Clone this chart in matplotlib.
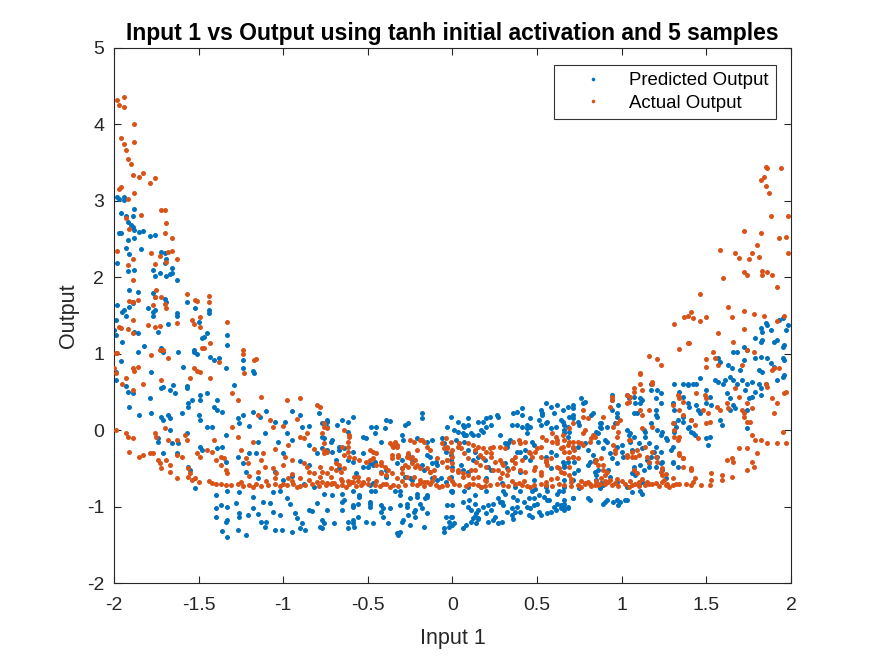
import matplotlib
matplotlib.use("Agg")
import matplotlib.pyplot as plt
from matplotlib.lines import Line2D

plt.rcParams['font.family'] = ['Liberation Sans', 'DejaVu Sans']

title = "Input 1 vs Output using tanh initial activation and 5 samples"
xlabel = "Input 1"
ylabel = "Output"
series_names = ["Predicted Output", "Actual Output"]
x_ticks = [-2, -1.5, -1, -0.5, 0, 0.5, 1, 1.5, 2]
x_tick_labels = ["-2", "-1.5", "-1", "-0.5", "0", "0.5", "1", "1.5", "2"]
y_ticks = [-2, -1, 0, 1, 2, 3, 4, 5]
y_tick_labels = ["-2", "-1", "0", "1", "2", "3", "4", "5"]

# Predicted output points (Input 1, Output)
predicted_points = [
    (-1.98,3.05),(-1.97,3.02),(-1.94,3.05),(-1.94,3.01),(-1.88,2.89),(-1.96,2.84),(-1.89,2.80),(-1.93,2.80),
    (-1.92,2.72),(-1.90,2.68),(-1.89,2.66),(-1.88,2.62),(-1.97,2.58),(-1.96,2.58),(-1.85,2.59),(-1.83,2.60),
    (-1.79,2.54),(-1.76,2.55),(-1.92,2.49),(-1.88,2.51),(-1.84,2.37),(-1.93,2.38),(-1.91,2.30),(-1.72,2.33),
    (-1.70,2.32),(-1.98,2.19),(-1.70,2.19),(-1.69,2.24),(-1.77,2.09),(-1.66,2.12),(-1.92,2.08),(-1.88,2.10),
    (-1.73,2.05),(-1.76,2.02),(-1.69,2.02),(-1.67,2.04),(-1.66,2.05),(-1.63,1.97),(-1.91,1.83),(-1.86,1.81),
    (-1.77,1.80),(-1.76,1.74),(-1.70,1.71),(-1.69,1.68),(-1.57,1.68),(-1.52,1.60),(-1.44,1.57),(-1.44,1.53),
    (-1.98,1.64),(-1.95,1.54),(-1.94,1.57),(-1.89,1.66),(-1.89,1.68),(-1.80,1.60),(-1.77,1.54),(-1.76,1.57),
    (-1.63,1.53),(-1.63,1.49),(-1.91,1.61),(-1.77,1.49),
    (-1.93,1.50),(-1.99,1.44),(-1.50,1.42),(-1.68,1.39),(-1.74,1.28),(-1.88,1.28),(-1.86,1.27),(-2.00,1.31),
    (-1.99,1.24),(-1.95,1.15),(-1.96,0.90),(-1.99,0.65),(-1.99,0.76),(-1.82,1.10),(-1.86,1.02),(-1.72,1.07),
    (-1.71,1.02),(-1.78,0.76),(-1.62,1.02),(-1.59,0.82),(-1.53,1.05),(-1.53,1.02),(-1.51,1.00),(-1.48,1.20),
    (-1.47,1.22),(-1.45,1.27),(-1.43,0.96),(-1.41,0.92),(-1.38,0.95),(-1.34,0.81),(-1.33,1.24),(-1.33,1.11),
    (-1.24,0.92),(-1.24,0.81),(-1.18,0.77),(-1.17,0.75),(-1.29,0.59),(-1.65,0.59),(-1.67,0.52),(-1.57,0.58),
    (-1.57,0.55),(-1.72,0.55),(-1.71,0.56),(-1.64,0.48),(-1.93,0.58),(-1.92,0.50),(-1.89,0.48),(-1.79,0.42),
    (-1.49,0.46),(-1.49,0.39),(-1.39,0.40),(-1.45,0.48),
    (-1.91,0.30),(-1.85,0.20),(-1.78,0.22),(-1.72,0.17),(-1.71,0.13),(-1.68,0.20),(-1.67,0.16),(-1.60,0.22),
    (-1.56,0.35),(-1.56,0.30),(-1.54,0.39),(-1.50,0.20),(-1.49,0.13),(-1.45,0.04),(-1.41,0.30),(-1.39,0.26),
    (-1.36,0.24),(-1.27,0.16),(-1.26,0.09),(-1.24,0.20),(-1.18,0.24),(-1.14,0.17),(-1.11,-0.04),(-1.03,-0.16),
    (-0.99,0.10),(-0.98,-0.04),(-0.95,-0.13),(-0.90,0.20),(-0.89,0.04),(-0.85,-0.20),(-0.79,0.22),(-0.74,0.04),
    (-1.74,-0.10),(-1.74,-0.16),(-1.66,-0.17),(-1.62,-0.17),(-1.67,0.00),(-1.57,-0.04),(-1.63,-0.30),(-1.71,-0.30),
    (-1.56,-0.48),(-1.55,-0.52),(-1.49,-0.22),(-1.48,-0.26),(-1.39,-0.24),(-1.36,-0.22),(-1.34,-0.42),(-1.27,-0.35),
    (-1.24,-0.43),(-1.20,-0.30),(-1.16,-0.30),(-1.34,-0.07),(-1.42,0.04),
    (-1.52,-0.76),(-1.40,-0.85),(-1.33,-0.79),(-1.40,-1.02),(-1.37,-0.98),(-1.33,-1.00),(-1.40,-1.13),(-1.34,-1.20),
    (-1.33,-1.17),(-1.36,-1.32),(-1.33,-1.40),(-1.27,-1.31),(-1.26,-0.81),(-1.26,-1.14),(-1.26,-1.09),(-1.22,-1.37),
    (-1.21,-1.11),(-1.18,-1.02),(-1.18,-0.88),(-1.12,-0.94),(-1.13,-1.20),(-1.10,-1.20),(-1.11,-1.27),(-1.06,-1.07),
    (-1.06,-0.81),(-1.02,-1.11),(-1.01,-1.31),(-0.98,-0.89),(-0.96,-0.96),(-0.93,-1.09),(-0.90,-1.28),(-0.89,-1.22),
    (-0.95,-1.33),(-0.85,-1.05),(-0.83,-1.06),(-0.78,-1.27),(-0.82,-0.75),(-1.02,-0.79),
    (-1.05,-0.55),(-0.95,-0.60),(-0.85,-0.45),(-1.15,-0.62),(-0.80,-0.30),
    (-1.20,0.05),(-1.10,0.25),(-1.05,0.10),(-0.95,0.25),(-0.85,0.05),(-1.15,-0.15),(-1.00,-0.30),(-0.90,-0.40),
    (-1.22,-0.55),(-1.00,-0.65),(-0.88,-0.70),(-1.28,-0.95),(-1.15,-1.10),(-1.08,-0.95),(-0.92,-1.15),(-0.80,-0.95),
    (-0.87,-1.30),(-1.05,-1.30),
    (-0.74,0.13),(-0.77,0.09),(-0.68,0.07),(-0.65,0.13),(-0.62,0.10),(-0.59,0.17),(-0.62,-0.03),(-0.76,-0.10),
    (-0.72,-0.16),(-0.74,-0.26),(-0.67,-0.22),(-0.53,-0.09),(-0.51,-0.10),(-0.48,0.04),(-0.45,0.04),(-0.46,-0.04),
    (-0.42,-0.16),(-0.39,0.13),(-0.37,0.12),(-0.40,0.03),(-0.30,-0.07),(-0.29,-0.13),(-0.28,0.07),(-0.26,0.09),
    (-0.21,-0.10),(-0.18,0.22),(-0.18,0.16),(-0.15,-0.16),(-0.12,-0.13),(-0.01,0.17),(0.03,0.10),(0.06,0.07),
    (0.09,0.16),(0.01,0.00),(0.07,-0.07),(0.11,-0.04),(0.15,0.10),(0.18,0.10),(0.20,0.16),(0.22,0.17),
    (0.20,0.04),(0.23,0.07),(0.27,0.17),(0.28,-0.07),(0.36,0.22),(0.38,0.24),(0.41,0.20),(0.41,0.29),
    (0.35,0.07),(0.38,0.07),(0.44,0.03),(0.46,0.04),(0.52,0.26),(0.53,0.22),(0.55,0.35),(0.58,0.30),
    (0.62,0.33),(0.60,0.22),(0.64,0.13),(0.58,0.03),(0.61,0.04),(0.51,0.13),(0.66,-0.04),(0.31,-0.17),
    (0.32,-0.22),(0.40,-0.29),(0.43,-0.26),(0.09,-0.26),(0.13,-0.29),(-0.04,-0.29),(-0.01,-0.33),(-0.59,-0.29),
    (-0.49,-0.43),(-0.46,-0.42),(-0.30,-0.50),(-0.12,-0.43),(-0.09,-0.46),
    (-0.67,-0.50),(-0.57,-0.56),(-0.53,-0.48),(-0.39,-0.61),(-0.28,-0.61),(-0.24,-0.65),(-0.13,-0.35),(-0.09,-0.65),
    (-0.01,-0.61),(0.05,-0.46),(0.12,-0.39),(0.20,-0.63),(0.29,-0.69),(0.35,-0.39),(0.40,-0.55),(0.48,-0.65),
    (0.58,-0.50),(0.66,-0.65),
    (-0.76,-0.83),(-0.71,-0.85),(-0.74,-1.05),(-0.77,-1.18),(-0.76,-1.22),(-0.70,-1.22),(-0.77,-1.28),(-0.65,-0.83),
    (-0.64,-0.92),(-0.59,-0.98),(-0.56,-0.96),(-0.59,-1.22),(-0.58,-1.27),(-0.62,-1.28),(-0.56,-1.14),(-0.49,-0.96),
    (-0.49,-1.00),(-0.51,-1.20),(-0.47,-1.22),(-0.42,-1.07),(-0.41,-1.14),(-0.37,-1.02),(-0.32,-1.35),(-0.31,-1.33),
    (-0.38,-1.22),(-0.27,-0.96),(-0.25,-0.89),(-0.30,-1.20),(-0.29,-1.18),(-0.25,-1.24),(-0.23,-1.07),(-0.22,-1.14),
    (-0.19,-0.96),(-0.16,-0.89),(-0.15,-0.85),(-0.18,-1.02),(-0.17,-1.27),(-0.04,-1.14),(0.00,-1.14),(-0.05,-1.28),
    (-0.02,-1.27),(0.00,-1.24),(-0.05,-1.33),(0.06,-1.28),(0.00,-0.98),(0.09,-1.00),(0.11,-1.05),(0.13,-0.96),
    (0.12,-1.15),(0.15,-1.15),(0.11,-1.20),(0.14,-1.22),(0.18,-1.00),(0.20,-1.09),(0.21,-1.20),(0.23,-1.05),
    (0.25,-1.14),(0.29,-0.94),(0.30,-0.98),(0.32,-1.07),(0.29,-1.20),(0.36,-0.88),(0.38,-0.92),(0.37,-1.07),
    (0.40,-1.07),(0.44,-1.00),(0.46,-1.02),(0.48,-0.89),(0.51,-0.85),(0.51,-1.07),(0.52,-1.11),(0.56,-1.09),
    (0.58,-1.07),(0.62,-0.96),(0.64,-1.02),(0.66,-1.05),(0.56,-0.92),(0.62,-0.83),(-0.21,-0.83),(-0.34,-0.79),
    (-0.31,-0.85),(-0.55,-0.85),(0.13,-0.85),(0.00,-0.79),
    (-0.74,0.10),(-0.77,-0.09),(-0.71,-0.13),(-0.06,-0.10),(-0.05,-0.17),(-0.03,0.04),
    (-0.77,-0.23),(-0.71,-0.29),(-0.67,-0.26),(-0.64,-0.24),(-0.69,-0.39),(-0.62,-0.39),(-0.59,-0.42),(-0.53,-0.30),
    (-0.50,-0.48),(-0.47,-0.46),(-0.42,-0.55),(-0.39,-0.52),(-0.33,-0.43),(-0.30,-0.39),(-0.26,-0.33),(-0.24,-0.42),
    (-0.18,-0.46),(-0.17,-0.52),(-0.15,-0.33),(-0.10,-0.42),(-0.12,-0.63),(-0.25,-0.63),(-0.48,-0.79),(-0.46,-0.79),
    (-0.59,-0.79),(-0.31,-0.79),(-0.21,-0.88),(-0.15,-0.88),(-0.07,-0.63),(-0.04,-0.68),
    (-0.65,-0.94),(-0.65,-1.05),(-0.59,-1.00),(-0.59,-1.18),(-0.55,-0.88),(-0.62,-1.20),(-0.49,-0.94),(-0.42,-0.98),
    (-0.41,-1.02),(-0.33,-1.35),(-0.32,-1.37),(-0.31,-0.98),(-0.27,-1.00),(-0.26,-1.11),(-0.22,-1.05),(-0.15,-1.09),
    (-0.47,-0.69),(-0.49,-0.72),
    (0.07,0.04),(0.09,0.07),(0.03,-0.03),(0.06,-0.04),(0.08,-0.07),(0.12,-0.07),(0.15,-0.07),(0.02,-0.13),
    (0.07,-0.16),(0.17,0.00),(0.18,-0.03),(0.26,0.20),(0.41,0.04),(0.44,0.07),(0.44,-0.04),(0.46,0.16),
    (0.52,0.07),(0.55,0.09),(0.56,0.10),(0.68,0.30),(0.71,0.20),(0.53,0.20),(0.65,0.10),(0.66,0.07),
    (0.38,-0.29),(0.34,-0.13),(0.33,-0.17),(0.47,-0.16),(0.48,-0.20),(0.55,-0.35),(0.58,-0.29),(0.61,-0.33),
    (0.65,-0.42),(0.66,-0.48),(0.43,-0.35),(0.46,-0.39),(0.31,-0.43),(0.32,-0.50),(0.19,-0.39),(0.21,-0.48),
    (0.15,-0.35),(0.23,-0.52),(-0.01,-0.39),(0.00,-0.48),(0.06,-0.52),(0.09,-0.55),
    (-0.01,-0.79),(0.00,-0.81),(0.07,-0.79),(0.09,-0.75),(0.17,-0.75),(0.20,-0.79),(0.30,-0.79),(0.31,-0.83),
    (0.37,-0.75),(0.40,-0.79),(0.47,-0.79),(0.49,-0.77),(0.55,-0.75),(0.56,-0.79),(0.63,-0.79),(0.66,-0.75),
    (-0.03,-0.98),(0.06,-0.94),(0.10,-0.92),(0.15,-1.05),(0.14,-1.09),(0.21,-0.98),(0.24,-0.96),(0.27,-0.89),
    (0.28,-0.94),(0.35,-1.02),(0.38,-1.00),(0.42,-0.94),(0.45,-0.89),(0.48,-0.98),(0.50,-0.96),(0.54,-0.88),
    (0.57,-0.92),(0.60,-1.00),(0.61,-1.05),(0.64,-0.98),(0.66,-0.96),(0.68,-1.02),(-0.01,-1.14),(-0.02,-1.20),
    (0.01,-1.22),(0.08,-1.24),(0.13,-1.12),(0.15,-1.16),(0.24,-1.18),(0.27,-1.22),(0.35,-1.11),(0.36,-1.16),
    (0.45,-1.11),(0.47,-1.14),
    (1.98,1.37),(1.97,1.31),(1.85,1.40),(1.86,1.37),(1.88,1.31),(1.82,1.33),(1.83,1.28),(1.93,1.44),
    (1.95,1.47),(1.79,1.20),(1.82,1.15),(1.83,1.18),(1.90,1.15),(1.92,1.18),(1.95,1.09),(1.96,1.11),
    (1.72,1.09),(1.74,1.05),(1.66,1.02),(1.68,1.02),(1.72,0.92),(1.79,0.94),(1.82,0.96),(1.86,0.94),
    (1.88,0.88),(1.95,0.94),(1.96,0.92),(1.57,0.94),(1.58,0.89),(1.63,0.85),(1.65,0.81),(1.70,0.79),
    (1.81,0.79),(1.83,0.76),(1.90,0.82),(1.92,0.65),(1.95,0.69),(1.96,0.72),(1.55,0.65),(1.57,0.63),
    (1.60,0.61),(1.61,0.65),(1.64,0.69),(1.66,0.65),(1.68,0.61),(1.71,0.65),(1.74,0.61),(1.77,0.63),
    (1.81,0.61),(1.82,0.55),(1.85,0.61),(1.50,0.52),(1.52,0.43),(1.73,0.52),(1.75,0.42),(1.77,0.43),
    (1.62,0.48),(1.64,0.42),(1.66,0.33),(1.67,0.29),(1.74,0.26),(1.79,0.50),(1.82,0.46),(1.42,0.61),
    (1.44,0.61),(1.46,0.68),(1.39,0.59),(1.31,0.61),(1.50,0.35),(1.53,0.33),(1.44,0.33),(1.45,0.26),
    (1.46,0.22),(1.39,0.35),(1.40,0.30),(1.30,0.35),(1.31,0.26),(1.32,0.04),(1.31,-0.03),(1.36,0.17),
    (1.36,0.10),(1.39,0.03),(1.41,-0.03),(1.42,-0.04),(1.43,-0.07),(1.50,-0.10),(1.52,-0.09),(1.51,-0.20),
    (1.58,0.13),(1.59,0.07),(1.64,0.26),(1.74,0.03),(1.27,-0.13),(1.29,-0.26),(1.30,-0.42),(1.30,-0.43),
    (1.21,0.00),(1.23,-0.07),(1.24,-0.03),(1.19,-0.29),(1.21,-0.35),(1.24,-0.42),(1.17,0.61),(1.17,0.52),
    (1.11,0.42),(1.11,0.35),(1.07,0.22),(1.21,0.17),(1.23,0.35),(1.03,0.46),(1.04,0.42),(0.98,0.33),
    (0.97,0.22),(0.94,0.26),(0.88,0.09),(0.87,0.04),(0.91,0.04),(0.83,0.22),(0.82,0.20),(0.76,0.42),
    (0.78,0.37),(0.71,0.33),(0.71,0.29),(0.65,0.26),(0.68,0.04),(0.66,0.00),(0.71,0.16),(0.69,0.17),
    (0.75,0.07),(0.86,-0.16),(0.90,-0.13),(0.89,-0.24),(0.78,-0.17),(0.83,-0.33),(0.81,-0.42),(0.71,-0.24),
    (0.72,-0.42),(0.66,-0.46),(1.03,0.00),(1.05,-0.04),(1.07,-0.09),(1.05,-0.16),(1.06,-0.26),(1.00,-0.29),
    (1.01,-0.35),(1.10,-0.17),(1.12,-0.24),(1.14,-0.09),(1.15,-0.39),(1.16,-0.43),(1.11,-0.46),(1.13,-0.52),
    (1.07,-0.48),(1.06,-0.56),(0.94,-0.37),(0.97,-0.43),(0.91,-0.92),(0.89,-0.96),(0.95,-0.94),(0.99,-0.94),
    (1.03,-0.92),(1.11,-0.79),(1.12,-0.83),(1.06,-0.81),(0.87,-0.76),(0.89,-0.72),(0.71,-0.89),(0.65,-1.00),
    (0.81,-0.92),(0.65,-0.79),(0.71,-0.65),(0.84,-0.55),(0.85,-0.59),
    (0.77,0.35),(0.74,0.10),(0.69,-0.03),(0.68,-0.09),(0.87,0.09),(0.88,0.03),(0.85,-0.03),(0.86,-0.04),
    (0.94,0.46),(0.94,0.39),(0.97,0.17),(0.96,0.09),(0.91,-0.16),(0.80,-0.26),(0.74,-0.22),(0.71,-0.35),
    (0.68,-0.42),(0.84,-0.39),(0.80,-0.46),(0.74,-0.52),(0.72,-0.56),(0.86,-0.52),(0.93,-0.30),(0.97,-0.22),
    (1.00,-0.20),(1.04,-0.07),(1.07,0.43),(1.08,0.35),(1.09,0.22),(1.12,0.39),(1.13,0.00),(1.14,-0.03),
    (1.17,0.09),(1.21,0.52),(1.20,0.42),(1.23,0.48),(1.20,0.26),(1.20,0.20),(1.26,-0.10),(1.20,-0.22),
    (1.23,-0.29),(1.20,-0.48),(1.23,-0.43),(1.30,-0.22),(1.33,-0.48),(1.36,0.61),(1.39,0.61),(1.34,0.50),
    (1.36,0.43),(1.33,0.13),(1.31,0.09),(1.24,-0.52),(1.26,-0.63),(1.16,-0.48),(1.07,-0.52),(1.08,-0.59),
    (1.03,-0.75),(1.10,-0.72),(1.12,-0.68),(0.97,-0.68),(0.90,-0.94),(0.97,-0.92),(0.98,-0.98),(1.02,-0.92),
    (0.80,-0.89),(0.71,-0.89),(0.66,-0.92),(0.68,-1.00),(0.85,-0.65),(0.88,-0.69),(0.75,-0.76),(0.92,-0.52),
    (0.93,-0.61),(1.16,-0.17),(1.17,-0.35),(1.41,0.13),(1.40,0.04),
]

# Actual output points (Input 1, Output)
actual_points = [
    (-1.98,4.32),(-1.94,4.36),(-1.94,4.23),(-1.97,4.25),(-1.88,4.00),(-1.96,3.82),(-1.88,3.77),(-1.94,3.74),
    (-1.93,3.66),(-1.92,3.55),(-1.90,3.48),(-1.89,3.34),(-1.85,3.31),(-1.83,3.36),(-1.76,3.30),(-1.79,3.24),
    (-1.97,3.15),(-1.96,3.18),(-1.88,3.10),(-1.92,3.02),(-1.72,2.88),(-1.70,2.88),(-1.84,2.81),(-1.69,2.71),
    (-1.93,2.77),(-1.91,2.63),(-1.70,2.58),(-1.66,2.51),(-1.98,2.34),(-1.78,2.32),(-1.73,2.28),(-1.68,2.33),
    (-1.66,2.34),(-1.63,2.24),(-1.89,2.24),(-1.69,2.20),(-1.92,2.16),(-1.76,2.17),(-1.89,1.97),(-1.75,1.84),
    (-1.76,1.74),(-1.72,1.74),(-1.57,1.78),(-1.52,1.70),(-1.44,1.75),(-1.44,1.68),(-1.91,1.69),(-1.86,1.70),
    (-1.70,1.65),(-1.69,1.60),(-1.77,1.64),(-1.49,1.48),
    (-1.89,1.68),(-1.51,1.69),(-1.97,1.35),(-1.96,1.33),(-1.89,1.44),(-1.92,1.32),(-1.80,1.37),(-1.76,1.35),
    (-1.73,1.36),(-1.63,1.40),(-1.54,1.44),(-1.53,1.39),(-1.49,1.35),(-1.33,1.41),(-1.89,1.27),
    (-1.99,1.01),(-1.98,1.01),(-2.00,0.81),(-1.99,0.75),(-1.95,0.61),(-1.89,0.81),(-1.88,0.78),(-1.86,0.82),
    (-1.78,0.98),(-1.72,0.65),(-1.73,1.05),(-1.71,1.05),(-1.68,0.94),(-1.55,0.68),(-1.53,0.81),(-1.51,0.78),
    (-1.49,0.76),(-1.48,1.08),(-1.47,1.07),(-1.43,1.14),(-1.38,0.89),(-1.43,0.68),(-1.24,1.05),(-1.24,1.00),
    (-1.17,0.92),(-1.16,0.93),(-1.23,0.75),(-1.30,0.48),(-1.27,0.39),(-1.13,0.43),(-1.83,0.61),(-1.93,0.68),
    (-1.89,0.52),
    (-1.99,0.00),(-1.93,-0.04),(-1.92,-0.09),(-1.89,-0.10),(-1.91,-0.29),(-1.85,-0.35),(-1.83,-0.33),(-1.79,-0.30),
    (-1.77,-0.30),(-1.74,-0.39),(-1.73,-0.43),(-1.72,-0.50),(-1.69,-0.39),(-1.67,-0.46),(-1.67,-0.55),(-1.63,-0.63),
    (-1.63,-0.33),(-1.60,-0.35),(-1.56,-0.50),(-1.55,-0.56),(-1.52,-0.63),(-1.50,-0.68),(-1.76,-0.04),(-1.75,-0.09),
    (-1.70,0.03),(-1.68,-0.13),(-1.63,-0.13),(-1.58,-0.07),(-1.57,-0.13),(-1.51,-0.30),(-1.49,-0.35),(-1.45,-0.26),
    (-1.42,-0.29),(-1.41,-0.13),(-1.40,-0.39),(-1.37,-0.35),(-1.35,-0.37),(-1.37,-0.46),(-1.34,-0.52),(-1.33,-0.56),
    (-1.56,-0.61),(-1.54,-0.65),(-1.30,0.04),(-1.27,-0.09),(-1.25,-0.26),(-1.22,-0.37),(-1.21,-0.43),(-1.13,-0.39),
    (-1.11,-0.48),(-1.06,-0.50),(-1.04,-0.56),(-0.98,0.39),(-0.90,0.42),(-0.80,0.33),(-0.99,-0.35),(-0.95,-0.39),
    (-0.88,-0.43),(-0.86,-0.48),(-0.82,-0.56),(-0.78,-0.61),(-1.08,0.13),(-1.06,0.04),(-0.90,-0.09),(-0.86,-0.04),
    (-1.20,-0.60),(-1.15,-0.55),(-1.05,-0.62),(-0.95,-0.58),(-0.90,-0.62),(-0.85,-0.55),(-1.00,-0.45),(-1.12,-0.30),
    (-0.97,-0.20),(-0.82,-0.25),(-0.88,-0.10),(-1.18,-0.15),(-1.05,-0.25),(-0.92,0.15),(-1.15,0.20),(-1.00,0.05),
    (-1.44,-0.66),(-1.42,-0.69),(-1.40,-0.70),(-1.37,-0.71),(-1.34,-0.72),(-1.31,-0.72),(-1.27,-0.71),(-1.24,-0.73),
    (-1.20,-0.72),(-1.16,-0.71),(-1.13,-0.73),(-1.09,-0.72),(-1.05,-0.71),(-1.02,-0.73),(-0.98,-0.72),(-0.94,-0.70),
    (-0.90,-0.73),(-0.87,-0.72),(-0.83,-0.71),(-0.79,-0.73),(-0.75,-0.72),(-0.72,-0.70),(-0.68,-0.73),(-0.65,-0.72),
    (-0.61,-0.71),(-0.57,-0.73),(-0.54,-0.72),(-0.50,-0.70),(-0.46,-0.72),(-0.43,-0.73),(-0.39,-0.71),(-0.35,-0.72),
    (-0.32,-0.73),(-0.28,-0.72),(-0.24,-0.70),(-0.21,-0.72),(-0.17,-0.73),(-0.13,-0.71),(-0.10,-0.72),(-0.06,-0.73),
    (-0.03,-0.72),(0.01,-0.70),(0.04,-0.72),(0.08,-0.73),(0.12,-0.71),(0.15,-0.72),(0.19,-0.73),(0.22,-0.72),
    (0.26,-0.70),(0.30,-0.72),(0.33,-0.73),(0.37,-0.71),(0.41,-0.72),(0.44,-0.73),(0.48,-0.72),(0.52,-0.70),
    (0.55,-0.72),(0.59,-0.73),(0.63,-0.71),(0.66,-0.72),(0.70,-0.73),(0.74,-0.72),(0.78,-0.71),(0.82,-0.73),
    (0.86,-0.72),(0.90,-0.70),(0.94,-0.72),(0.98,-0.73),(1.02,-0.71),(1.06,-0.72),(1.10,-0.73),(1.14,-0.72),
    (1.18,-0.71),(1.22,-0.73),(1.26,-0.72),(1.30,-0.72),(1.34,-0.71),(1.38,-0.70),(1.42,-0.68),
    (-1.25,-0.68),(-0.95,-0.67),(-0.60,-0.68),(-0.30,-0.67),(0.00,-0.66),(0.35,-0.67),(0.70,-0.68),(1.00,-0.67),
    (-1.10,-0.66),(-0.80,-0.68),(-0.45,-0.66),(-0.15,-0.68),(0.20,-0.66),(0.55,-0.68),(0.85,-0.66),(1.15,-0.68),
    (-1.18,-0.74),(-0.92,-0.75),(-0.63,-0.74),(-0.37,-0.75),(-0.08,-0.74),(0.17,-0.75),(0.46,-0.74),(0.76,-0.75),
    (1.04,-0.74),(1.28,-0.75),(-1.00,-0.70),(-0.70,-0.69),(-0.41,-0.70),(-0.19,-0.69),(0.10,-0.70),(0.39,-0.69),
    (-0.97,-0.63),(-0.66,-0.64),(-0.33,-0.63),(-0.02,-0.62),(0.28,-0.63),(0.58,-0.64),(-0.85,-0.65),(-0.50,-0.64),
    (-0.12,-0.66),(0.42,-0.66),(0.62,-0.62),(-0.23,-0.61),
    (0.70,-0.64),(0.76,-0.66),(0.80,-0.68),(0.88,-0.63),(0.92,-0.68),(0.97,-0.64),(1.05,-0.66),(1.08,-0.70),
    (1.12,-0.64),(1.20,-0.69),(1.25,-0.65),(1.32,-0.70),
    (-0.76,0.04),(-0.77,-0.04),(-0.76,-0.26),(-0.74,-0.29),(-0.69,-0.43),(-0.67,-0.46),(-0.64,-0.50),(-0.65,-0.22),
    (-0.62,-0.29),(-0.64,0.00),(-0.62,-0.16),(-0.74,-0.56),(-0.72,-0.61),(-0.58,-0.61),(-0.56,-0.61),(-0.53,-0.68),
    (-0.49,-0.26),(-0.47,-0.29),(-0.45,-0.30),(-0.51,-0.42),(-0.42,-0.42),(-0.40,-0.48),(-0.38,-0.52),(-0.36,-0.20),
    (-0.33,-0.22),(-0.34,-0.16),(-0.36,-0.33),(-0.32,-0.33),(-0.27,-0.35),(-0.25,-0.37),(-0.24,-0.43),(-0.22,-0.48),
    (-0.19,-0.50),(-0.21,-0.26),(-0.18,-0.13),(-0.15,-0.22),(-0.13,-0.26),(-0.30,-0.56),(-0.27,-0.61),(-0.13,-0.55),
    (-0.11,-0.61),(-0.04,-0.10),(-0.01,-0.16),(-0.03,-0.24),(0.00,-0.26),(0.03,-0.22),(0.04,-0.17),(-0.03,-0.39),
    (0.00,-0.43),(0.03,-0.52),(0.06,-0.56),(0.11,-0.52),(0.13,-0.52),(0.09,-0.17),(0.16,-0.33),(0.18,-0.37),
    (0.15,-0.22),(0.22,-0.24),(0.24,-0.22),(0.20,-0.48),(0.24,-0.52),(0.28,-0.22),(0.31,-0.24),(0.29,-0.43),
    (0.33,-0.52),(0.36,-0.50),(0.40,-0.17),(0.43,-0.16),(0.37,-0.35),(0.41,-0.39),(0.46,-0.30),(0.49,-0.29),
    (0.48,-0.52),(0.52,-0.59),(0.52,-0.35),(0.55,-0.39),(0.58,-0.37),(0.59,-0.16),(0.62,-0.13),(0.64,-0.24),
    (0.66,-0.29),(0.62,-0.48),(0.64,-0.55),(0.68,-0.20),(-0.25,-0.13),(-0.23,-0.16),(-0.09,-0.37),(-0.06,-0.42),
    (-0.19,-0.65),(-0.17,-0.68),(-0.58,-0.37),(-0.55,-0.39),
    (-0.78,0.30),(-0.76,0.09),(-0.74,0.03),(-0.76,-0.17),(-0.76,-0.30),(-0.61,-0.09),(-0.61,-0.07),(-0.62,-0.22),
    (-0.64,-0.33),(-0.61,-0.35),(-0.72,-0.50),(-0.69,-0.52),(-0.66,-0.55),(-0.78,-0.48),(-0.77,-0.55),(-0.77,-0.68),
    (-0.74,-0.69),(-0.71,-0.69),(-0.65,-0.66),(-0.62,-0.66),(-0.59,-0.68),(-0.56,-0.66),(-0.53,-0.69),(-0.49,-0.39),
    (-0.47,-0.36),(-0.45,-0.46),(-0.42,-0.46),(-0.42,-0.56),(-0.39,-0.59),(-0.36,-0.56),(-0.37,-0.17),(-0.35,-0.22),
    (-0.33,-0.20),(-0.36,-0.37),(-0.32,-0.35),(-0.30,-0.50),(-0.28,-0.46),(-0.26,-0.48),(-0.26,-0.30),(-0.24,-0.35),
    (-0.22,-0.39),(-0.21,-0.46),(-0.19,-0.13),(-0.17,-0.16),(-0.15,-0.50),(-0.13,-0.55),(-0.11,-0.52),(-0.06,-0.17),
    (-0.05,-0.24),(-0.03,-0.39),(-0.03,-0.48),
    (-0.03,-0.22),(-0.01,-0.29),(0.00,-0.35),(0.04,-0.17),(0.05,-0.24),(0.07,-0.30),(0.09,-0.37),(0.12,-0.20),
    (0.13,-0.26),(0.14,-0.42),(0.16,-0.46),(0.18,-0.24),(0.20,-0.29),(0.23,-0.30),(0.23,-0.35),(0.25,-0.42),
    (0.28,-0.39),(0.30,-0.46),(0.27,-0.52),(0.29,-0.56),(0.32,-0.59),(0.36,-0.16),(0.39,-0.13),(0.35,-0.39),
    (0.37,-0.43),(0.40,-0.52),(0.43,-0.55),(0.45,-0.29),(0.47,-0.35),(0.50,-0.24),(0.52,-0.22),(0.49,-0.48),
    (0.52,-0.55),(0.55,-0.42),(0.56,-0.46),(0.59,-0.04),(0.61,-0.09),(0.62,-0.17),(0.65,-0.22),(0.63,-0.50),
    (0.66,-0.56),(0.69,-0.29),(0.71,-0.35),(0.69,-0.59),(0.00,-0.52),(0.03,-0.55),(0.06,-0.61),(0.09,-0.59),
    (0.12,-0.63),(0.15,-0.61),(0.19,-0.65),(0.53,-0.09),(0.55,-0.13),
    (1.85,3.44),(1.86,3.43),(1.94,3.43),(1.82,3.27),(1.84,3.31),(1.85,3.20),(1.87,3.10),(1.88,2.80),
    (1.98,2.80),(1.72,2.60),(1.82,2.58),(1.93,2.51),(1.97,2.53),(1.98,2.32),(1.58,2.36),(1.67,2.32),
    (1.69,2.25),(1.75,2.24),(1.77,2.32),(1.80,2.42),(1.81,2.26),(1.72,2.07),(1.74,2.03),(1.83,2.08),
    (1.83,2.03),(1.86,2.07),(1.89,2.03),(1.60,1.99),(1.92,1.87),(1.46,1.78),(1.31,1.39),(1.37,1.48),
    (1.39,1.49),(1.41,1.54),(1.42,1.47),(1.46,1.43),(1.50,1.48),(1.63,1.61),(1.65,1.48),(1.72,1.56),
    (1.72,1.32),(1.78,1.52),(1.84,1.49),(1.92,1.43),(1.96,1.50),(1.57,1.27),(1.39,1.14),(1.40,1.14),
    (1.34,1.06),(1.16,0.97),(1.21,0.93),(1.23,0.85),(1.11,0.73),(1.50,0.93),(1.50,0.82),(1.54,1.02),
    (1.55,0.94),(1.57,0.85),(1.66,1.15),(1.71,0.85),(1.74,1.05),(1.78,1.02),(1.89,0.79),(1.90,0.81),
    (1.93,0.81),(1.97,0.50),(1.96,0.48),(1.07,0.55),(1.05,0.43),(1.11,0.61),(1.12,0.52),(0.94,0.43),
    (0.94,0.39),(1.18,0.63),(1.30,0.33),(1.33,0.46),(1.34,0.42),(1.44,0.48),(1.49,0.46),(1.50,0.42),
    (1.56,0.30),(1.58,0.26),(1.62,0.35),(1.63,0.29),(1.67,0.55),(1.69,0.43),(1.71,0.26),(1.72,0.22),
    (1.74,0.35),(1.77,0.29),(1.85,0.61),(1.86,0.56),(1.89,0.42),(1.92,0.35),(1.90,0.22),(1.72,0.17),
    (1.74,0.10),(1.76,0.10),(1.95,-0.03),(1.92,-0.17),(1.97,-0.17),(1.86,-0.17),(1.77,-0.07),(1.79,-0.13),
    (1.82,-0.13),(1.69,-0.24),(1.74,-0.24),(1.80,-0.30),(1.77,-0.42),(1.78,-0.48),(1.74,-0.52),(1.62,-0.39),
    (1.65,-0.37),(1.66,-0.42),(1.59,-0.59),(1.59,-0.65),(1.65,-0.61),(1.53,-0.56),(1.53,-0.65),(1.47,-0.72),
    (1.52,-0.72),(1.41,-0.52),(1.43,-0.63),(1.41,-0.72),(1.36,-0.48),(1.27,-0.70),(1.24,-0.68),(1.16,-0.70),
    (1.10,-0.68),(0.96,-0.69),(0.93,-0.65),(0.90,-0.67),(0.87,-0.70),(0.84,-0.72),(0.81,-0.70),(0.78,-0.69),
    (0.74,-0.16),(0.76,-0.17),(0.83,-0.07),(0.84,-0.09),(0.65,-0.07),(0.66,-0.13),(0.71,-0.16),(0.71,-0.22),
    (0.77,-0.20),(0.85,-0.39),(0.88,-0.37),(0.89,-0.46),(0.95,0.04),(0.97,0.09),(0.96,-0.26),(1.03,-0.33),
    (1.06,-0.35),(1.08,-0.35),(1.04,-0.13),(1.14,-0.22),(1.18,-0.29),(1.20,-0.35),(1.23,-0.55),(1.24,-0.59),
    (1.34,-0.30),(1.36,-0.37),(1.30,0.09),(1.31,0.00),(1.34,-0.09),(1.50,0.09),(1.52,0.10),(1.48,0.26),
    (1.51,0.22),(1.41,0.13),(1.43,0.07),(1.45,-0.10),(1.03,0.35),(1.04,0.37),(0.93,0.30),(1.11,0.26),
    (1.12,0.20),(0.89,0.17),
    (1.11,0.75),(1.18,0.61),(1.07,0.50),(1.03,0.46),(0.77,0.26),(0.77,0.17),(0.71,0.09),(0.69,0.03),
    (0.80,0.16),(0.78,0.00),(0.77,-0.04),(0.69,-0.16),(0.72,-0.26),(0.68,-0.37),(0.69,-0.48),(0.74,-0.37),
    (0.82,-0.10),(0.81,-0.16),(0.84,-0.42),(0.86,-0.46),(0.89,-0.52),(0.91,-0.55),(0.90,-0.59),(0.95,-0.20),
    (0.96,-0.30),(0.98,-0.03),(0.97,-0.09),(0.99,0.13),(1.05,-0.13),(1.06,-0.29),(1.09,-0.26),(1.10,-0.33),
    (1.03,-0.35),(1.15,-0.35),(1.16,-0.42),(1.07,-0.52),(1.09,-0.56),(1.12,0.03),(1.18,0.04),(1.16,0.26),
    (1.21,-0.42),(1.24,-0.50),(1.26,-0.57),(1.30,-0.63),(1.34,0.43),(1.36,0.37),(1.34,0.26),(1.36,0.20),
    (1.31,-0.09),(1.33,-0.13),(1.34,-0.33),(1.36,-0.37),(1.41,-0.50),
]

pred_x = [p[0] for p in predicted_points]
pred_y = [p[1] for p in predicted_points]
act_x = [p[0] for p in actual_points]
act_y = [p[1] for p in actual_points]

blue = '#0072BD'
orange = '#D95319'
axis_col = '#262626'

fig = plt.figure(figsize=(8.75, 6.56), dpi=100)
ax = fig.add_axes([114/875, 1-583/656, (791-114)/875, (583-48)/656])

ax.plot(pred_x, pred_y, linestyle='none', marker='o', markersize=3.6,
        markeredgewidth=0, color=blue, label=series_names[0], zorder=2)
ax.plot(act_x, act_y, linestyle='none', marker='o', markersize=3.6,
        markeredgewidth=0, color=orange, label=series_names[1], zorder=3)

ax.set_xlim(-2, 2)
ax.set_ylim(-2, 5)
ax.set_xticks(x_ticks)
ax.set_xticklabels(x_tick_labels)
ax.set_yticks(y_ticks)
ax.set_yticklabels(y_tick_labels)
ax.tick_params(direction='in', top=True, right=True, length=5, width=0.8,
               labelsize=14, colors=axis_col)
ax.tick_params(axis='x', pad=10)
ax.tick_params(axis='y', pad=7)
for s in ax.spines.values():
    s.set_color(axis_col)
    s.set_linewidth(0.8)

ax.set_title(title, fontsize=16.5, fontweight='bold', color='black', pad=6)
ax.set_xlabel(xlabel, fontsize=15.5, color=axis_col, labelpad=10)
ax.set_ylabel(ylabel, fontsize=15.5, color=axis_col, labelpad=6)

handles = [Line2D([], [], linestyle='none', marker='o', markersize=2.6, markeredgewidth=0, color=blue),
           Line2D([], [], linestyle='none', marker='o', markersize=2.6, markeredgewidth=0, color=orange)]
leg = ax.legend(handles, series_names, loc='upper right',
                bbox_to_anchor=((776-114)/677, (583-65)/535), borderaxespad=0,
                fontsize=13.4, frameon=True, fancybox=False, edgecolor='black',
                handlelength=3.4, handletextpad=0.25, borderpad=0.38, labelspacing=0.3)
leg.get_frame().set_linewidth(0.8)

fig.savefig('out.png', dpi=100, facecolor='white')
